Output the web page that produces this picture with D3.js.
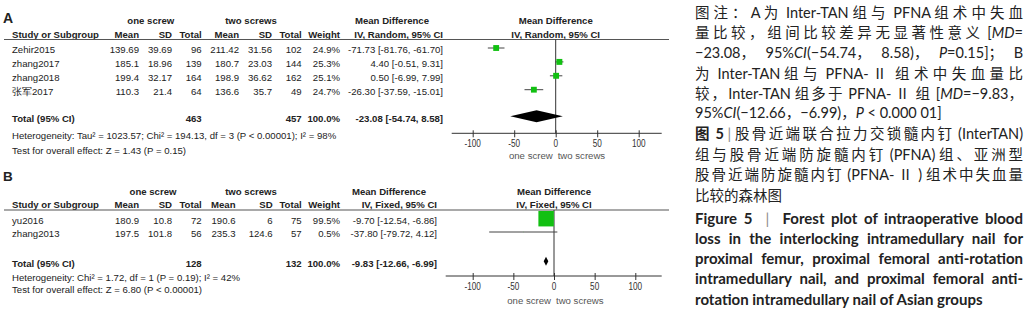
<!DOCTYPE html>
<html>
<head>
<meta charset="utf-8">
<title>Forest plot</title>
<style>
  body { margin: 0; background: #fff; }
  #wrap { position: relative; width: 1026px; height: 317px; overflow: hidden; }
  svg { position: absolute; left: 0; top: 0; }
  svg text { font-family: "Liberation Sans", Arial, sans-serif; fill: #222; }
  .cap { position: absolute; left: 695px; width: 328px; height: 20px; white-space: nowrap;
         font-family: Lato, "Noto Sans CJK SC", sans-serif; font-size: 14.5px;
         line-height: 20px; color: #222; text-align: left; }
  .cap.en { font-weight: bold; font-size: 15px; white-space: normal;
            text-align: justify; text-align-last: justify; }
  .cap.en.last { text-align-last: left; }
  .cap .bar { color: #888; font-weight: normal; }
</style>
<script src="https://d3js.org/d3.v7.min.js"></script>
</head>
<body>
<div id="wrap"></div>
<script>
// ---- panel A data (Random effects) ----
const studiesA = ["Zehir2015", "zhang2017", "zhang2018", "张军2017"];
const oneMeanA = [139.69, 185.1, 199.4, 110.3];
const oneSdA   = [39.69, 18.96, 32.17, 21.4];
const oneNA    = [96, 139, 164, 64];
const twoMeanA = [211.42, 180.7, 198.9, 136.6];
const twoSdA   = [31.56, 23.03, 36.62, 35.7];
const twoNA    = [102, 144, 162, 49];
const weightA  = [24.9, 25.3, 25.1, 24.7];
const mdA      = [-71.73, 4.40, 0.50, -26.30];
const loA      = [-81.76, -0.51, -6.99, -37.59];
const hiA      = [-61.70, 9.31, 7.99, -15.01];
const totalNA  = [463, 457];
const pooledA  = [-23.08, -54.74, 8.58];
const hetA  = "Heterogeneity: Tau² = 1023.57; Chi² = 194.13, df = 3 (P < 0.00001); I² = 98%";
const testA = "Test for overall effect: Z = 1.43 (P = 0.15)";

// ---- panel B data (Fixed effects) ----
const studiesB = ["yu2016", "zhang2013"];
const oneMeanB = [180.9, 197.5];
const oneSdB   = [10.8, 101.8];
const oneNB    = [72, 56];
const twoMeanB = [190.6, 235.3];
const twoSdB   = [6, 124.6];
const twoNB    = [75, 57];
const weightB  = [99.5, 0.5];
const mdB      = [-9.70, -37.80];
const loB      = [-12.54, -79.72];
const hiB      = [-6.86, 4.12];
const totalNB  = [128, 132];
const pooledB  = [-9.83, -12.66, -6.99];
const hetB  = "Heterogeneity: Chi² = 1.72, df = 1 (P = 0.19); I² = 42%";
const testB = "Test for overall effect: Z = 6.80 (P < 0.00001)";

const tickValues = [-100, -50, 0, 50, 100];
const groupLabels = ["one screw", "two screws"];

const captionLines = [
  "图注：A 为 Inter-TAN 组与 PFNA 组术中失血",
  "量比较，组间比较差异无显著性意义 [<i>MD</i>=",
  "−23.08，95%<i>CI</i>(−54.74，8.58)，<i>P</i>=0.15]；B",
  "为 Inter-TAN 组与 PFNA- Ⅱ 组术中失血量比",
  "较，Inter-TAN 组多于 PFNA- Ⅱ 组 [<i>MD</i>=−9.83，",
  "95%<i>CI</i>(−12.66，−6.99)，<i>P</i> &lt; 0.000 01]",
  "<b>图 5</b> <span class='bar'>|</span> 股骨近端联合拉力交锁髓内钉 (InterTAN)",
  "组与股骨近端防旋髓内钉 (PFNA) 组、亚洲型",
  "股骨近端防旋髓内钉 (PFNA- Ⅱ ) 组术中失血量",
  "比较的森林图",
  "Figure 5 &nbsp;<span class='bar'>|</span>&nbsp; Forest plot of intraoperative blood",
  "loss in the interlocking intramedullary nail for",
  "proximal femur, proximal femoral anti-rotation",
  "intramedullary nail, and proximal femoral anti-",
  "rotation intramedullary nail of Asian groups"
];
const captionY = [13, 33, 53, 73.5, 93.5, 113, 134, 155, 175, 196, 218, 238, 258, 278, 299];
const captionLast = [5, 9, 14];

function rows(studies, oneMean, oneSd, oneN, twoMean, twoSd, twoN, weight, md, lo, hi) {
  return studies.map((s, i) => ({
    study: s, cells: [oneMean[i], oneSd[i], oneN[i], twoMean[i], twoSd[i], twoN[i]],
    weight: weight[i], md: md[i], lo: lo[i], hi: hi[i]
  }));
}

const panels = [
  {
    letter: "A", model: "IV, Random, 95% CI",
    data: rows(studiesA, oneMeanA, oneSdA, oneNA, twoMeanA, twoSdA, twoNA, weightA, mdA, loA, hiA),
    totalN: totalNA, pooled: pooledA, het: hetA, test: testA,
    letterY: 18.3, letterSize: 14, groupY: 20.7, headY: 34.3, lineY: 39.5,
    rowRange: [50, 91.7], totalY: 118.3, hetY: 136, testY: 151,
    axisY: 133.3, tickY: 143.3, sideY: 155.7,
    xRange: [472.7, 638.7], axisExt: [451.7, 661.7],
    cols: [139, 172, 201.7, 239, 272, 301.7], weightX: 340,
    mdX: 443, mdHeadX: 392, groupX: [150.8, 251], diamondH: 12
  },
  {
    letter: "B", model: "IV, Fixed, 95% CI",
    data: rows(studiesB, oneMeanB, oneSdB, oneNB, twoMeanB, twoSdB, twoNB, weightB, mdB, loB, hiB),
    totalN: totalNB, pooled: pooledB, het: hetB, test: testB,
    letterY: 176, letterSize: 13.5, groupY: 191.7, headY: 205, lineY: 210,
    rowRange: [220.7, 234], totalY: 263.3, hetY: 277.3, testY: 289.3,
    axisY: 276, tickY: 286.7, sideY: 300.7,
    xRange: [472.7, 635.3], axisExt: [445.7, 661.7],
    cols: [139, 172, 201.7, 235.5, 272.7, 301.7], weightX: 340,
    mdX: 437, mdHeadX: 389, groupX: [153, 251], diamondH: 9
  }
];

const svg = d3.select("#wrap").append("svg")
  .attr("width", 1026).attr("height", 317);

const fs = 9.6;
const sizeScale = d3.scalePow().exponent(0.7).domain([0, 100]).range([0, 15.5]);
const f2 = d3.format(".2f");
const fmtMd = (m, l, h) => `${f2(m)} [${f2(l)}, ${f2(h)}]`.replace(/\u2212/g, "-");

panels.forEach(p => {
  const g = svg.append("g");
  const x = d3.scaleLinear().domain([-100, 100]).range(p.xRange);
  const y = d3.scalePoint().domain(p.data.map(d => d.study)).range(p.rowRange);
  const off = -2;

  const txt = (t, xp, yp, anchor, bold, size) => g.append("text")
    .attr("x", xp).attr("y", yp).attr("dy", "0.35em")
    .attr("text-anchor", anchor || "start")
    .attr("font-weight", bold ? "bold" : null)
    .attr("font-size", size || fs)
    .text(t);

  txt(p.letter, 3, p.letterY, "start", true, p.letterSize);

  // group headings
  groupLabels.forEach((l, i) => txt(l, p.groupX[i], p.groupY, "middle", true));
  txt("Mean Difference", p.mdHeadX, p.groupY, "middle", true);
  txt("Mean Difference", x(0), p.groupY, "middle", true);

  // column headings
  txt("Study or Subgroup", 12, p.headY, "start", true);
  ["Mean", "SD", "Total", "Mean", "SD", "Total"].forEach((h, i) => txt(h, p.cols[i], p.headY, "end", true));
  txt("Weight", p.weightX, p.headY, "end", true);
  txt(p.model, p.mdX, p.headY, "end", true);
  txt(p.model, x(0), p.headY, "middle", true);

  g.append("line").attr("x1", 4).attr("x2", 669)
    .attr("y1", p.lineY).attr("y2", p.lineY)
    .attr("stroke", "#555").attr("stroke-width", 1.2);

  // study rows
  p.data.forEach(d => {
    const yy = y(d.study);
    txt(d.study, 12, yy, "start");
    d.cells.forEach((c, i) => txt(String(c), p.cols[i], yy, "end"));
    txt(d.weight.toFixed(1) + "%", p.weightX, yy, "end");
    txt(fmtMd(d.md, d.lo, d.hi), p.mdX, yy, "end");
  });

  // totals
  txt("Total (95% CI)", 12, p.totalY, "start", true);
  txt(String(p.totalN[0]), p.cols[2], p.totalY, "end", true);
  txt(String(p.totalN[1]), p.cols[5], p.totalY, "end", true);
  txt("100.0%", p.weightX, p.totalY, "end", true);
  txt(fmtMd(p.pooled[0], p.pooled[1], p.pooled[2]), p.mdX, p.totalY, "end", true);
  txt(p.het, 12, p.hetY, "start");
  txt(p.test, 12, p.testY, "start");

  // zero line
  g.append("line").attr("x1", x(0)).attr("x2", x(0))
    .attr("y1", p.lineY).attr("y2", p.axisY)
    .attr("stroke", "#333").attr("stroke-width", 1);

  // whiskers and squares
  const marks = g.append("g");
  marks.selectAll("line.ci").data(p.data).join("line")
    .attr("class", "ci")
    .attr("x1", d => x(d.lo)).attr("x2", d => x(d.hi))
    .attr("y1", d => y(d.study) + off).attr("y2", d => y(d.study) + off)
    .attr("stroke", "#444").attr("stroke-width", 1);
  marks.selectAll("rect").data(p.data).join("rect")
    .attr("x", d => x(d.md) - sizeScale(d.weight) / 2)
    .attr("y", d => y(d.study) + off - sizeScale(d.weight) / 2)
    .attr("width", d => sizeScale(d.weight))
    .attr("height", d => sizeScale(d.weight))
    .attr("fill", "#12c012");

  // pooled diamond
  const dy = p.totalY + off, h = p.diamondH / 2;
  g.append("path")
    .attr("d", `M${x(p.pooled[1])},${dy}L${x(p.pooled[0])},${dy - h}L${x(p.pooled[2])},${dy}L${x(p.pooled[0])},${dy + h}Z`)
    .attr("fill", "#000");

  // axis
  const ax = g.append("g").attr("transform", `translate(0,${p.axisY})`)
    .call(d3.axisBottom(x).tickValues(tickValues).tickSizeOuter(0).tickSize(4));
  ax.select(".domain").remove();
  ax.append("line").attr("x1", p.axisExt[0]).attr("x2", p.axisExt[1])
    .attr("stroke", "#333");
  ax.selectAll(".tick line").attr("y1", -3).attr("y2", 4).attr("stroke", "#333");
  ax.selectAll(".tick text").remove();
  tickValues.forEach(t => g.append("text")
    .attr("transform", `translate(${x(t)},${p.tickY}) scale(0.78,1)`)
    .attr("dy", "0.35em").attr("text-anchor", "middle")
    .attr("font-size", 10.5).style("fill", "#333")
    .text(t));

  txt(groupLabels[0], x(0) - 3, p.sideY, "end").style("fill", "#555");
  txt(groupLabels[1], x(0) + 2, p.sideY, "start").style("fill", "#555");
});

// caption column: Chinese lines get their spare room spread between the CJK characters
const cjk = /[\u2160-\u217f\u3000-\u303f\u4e00-\u9fff\uff00-\uffef]+/g;
const capW = 328;
d3.select("#wrap").selectAll("div.cap").data(captionLines).join("div")
  .attr("class", (d, i) => "cap" + (i >= 10 ? " en" : "") + (captionLast.includes(i) ? " last" : ""))
  .style("top", (d, i) => (captionY[i] - 10) + "px")
  .html((d, i) => i >= 10 ? d : `<span class="inner">${d.replace(cjk, m => `<span class="cj">${m}</span>`)}</span>`)
  .each(function (d, i) {
    if (i >= 10) {
      let s = parseFloat(getComputedStyle(this).fontSize);
      while (this.scrollHeight > 22 && s > 8) { s -= 0.2; this.style.fontSize = s + "px"; }
      return;
    }
    if (captionLast.includes(i)) return;
    const inner = this.querySelector(".inner");
    const w0 = inner.getBoundingClientRect().width;
    const plain = d.replace(/<[^>]*>/g, "");
    let n = (plain.match(/[\u2160-\u217f\u3000-\u303f\u4e00-\u9fff\uff00-\uffef]/g) || []).length;
    if (/[\u2160-\u217f\u3000-\u303f\u4e00-\u9fff\uff00-\uffef]$/.test(plain)) n -= 1;
    const ls = Math.max(0, (capW - w0) / Math.max(1, n));
    d3.select(this).selectAll(".cj").style("letter-spacing", ls + "px");
  });
</script>
</body>
</html>
